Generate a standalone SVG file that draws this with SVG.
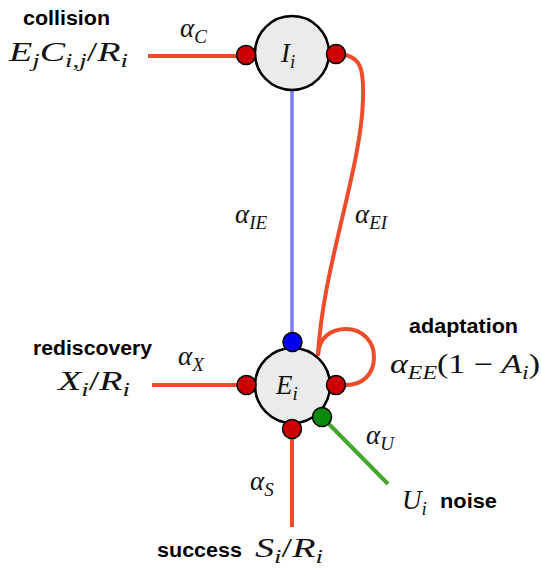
<svg xmlns="http://www.w3.org/2000/svg" width="541" height="571" viewBox="0 0 541 571">
<style>
.red{fill:none;stroke:#EE4B2B;stroke-width:4}
.blue{fill:none;stroke:#7B7BF3;stroke-width:3.5}
.green{fill:none;stroke:#45A52E;stroke-width:4}
.node{fill:#EBEBEB;stroke:#000;stroke-width:2.5}
.pr{fill:#CC0000;stroke:#000;stroke-width:1.5}
.pb{fill:#0000EE;stroke:#000;stroke-width:1.5}
.pg{fill:#0A8A0A;stroke:#000;stroke-width:1.5}
.m{font-family:"Liberation Serif","DejaVu Serif",serif;font-style:italic;font-size:27px;fill:#111}
.up{font-style:normal}
.b{font-family:"Liberation Sans",Arial,sans-serif;font-weight:bold;font-size:19.5px;fill:#000}
</style>
<rect width="541" height="571" fill="#fff"/>
<g id="connectors">
<path class="red" d="M148 56 H246"/>
<path class="blue" d="M292 91 V342"/>
<path class="red" d="M336 54 C362 54 364 70 363 100 C361 170 322 270 318 356"/>
<path class="red" d="M318 356 C318 337 332 329 346 329 C363 329 374 342 374 357 C374 375 362 385 346 385 L336 385"/>
<path class="red" d="M152 385 H246"/>
<path class="red" d="M292 429 V527"/>
<path class="green" d="M322 417 L388 484"/>
</g>
<g id="node-I">
<circle class="node" cx="292" cy="53" r="37"/>
<text class="m" x="281" y="62">I<tspan font-size="19" dy="6">i</tspan></text>
<circle class="pr" cx="246" cy="55" r="9.5"/>
<circle class="pr" cx="336" cy="54" r="9.5"/>
</g>
<g id="node-E">
<circle class="node" cx="292.5" cy="385.5" r="37.5"/>
<text class="m" x="276" y="394">E<tspan font-size="19" dy="6">i</tspan></text>
<circle class="pb" cx="292.5" cy="342" r="9.5"/>
<circle class="pr" cx="246.5" cy="385" r="9.5"/>
<circle class="pr" cx="336" cy="385" r="9.5"/>
<circle class="pr" cx="292" cy="429" r="9.5"/>
<circle class="pg" cx="322" cy="417" r="9.5"/>
</g>
<g id="labels">
<text class="b" x="23" y="25" textLength="87" lengthAdjust="spacingAndGlyphs">collision</text>
<text class="m" x="9" y="61" textLength="119" lengthAdjust="spacingAndGlyphs">E<tspan font-size="19" dy="6">j</tspan><tspan dy="-6">C</tspan><tspan font-size="19" dy="6">i,j</tspan><tspan class="up" dy="-6">/</tspan>R<tspan font-size="19" dy="6">i</tspan></text>
<text class="m" x="180" y="37">α<tspan font-size="19" dy="6">C</tspan></text>
<text class="m" x="235" y="223">α<tspan font-size="19" dy="6">IE</tspan></text>
<text class="m" x="355" y="223">α<tspan font-size="19" dy="6">EI</tspan></text>
<text class="b" x="33" y="355" textLength="119" lengthAdjust="spacingAndGlyphs">rediscovery</text>
<text class="m" x="178" y="365">α<tspan font-size="19" dy="6">X</tspan></text>
<text class="m" x="58" y="390" textLength="72" lengthAdjust="spacingAndGlyphs">X<tspan font-size="19" dy="6">i</tspan><tspan class="up" dy="-6">/</tspan>R<tspan font-size="19" dy="6">i</tspan></text>
<text class="b" x="409" y="333" textLength="109" lengthAdjust="spacingAndGlyphs">adaptation</text>
<text class="m" x="390" y="373" textLength="150" lengthAdjust="spacingAndGlyphs">α<tspan font-size="19" dy="6">EE</tspan><tspan class="up" dy="-6">(1 − </tspan>A<tspan font-size="19" dy="6">i</tspan><tspan class="up" dy="-6">)</tspan></text>
<text class="m" x="366" y="444">α<tspan font-size="19" dy="6">U</tspan></text>
<text class="m" x="250" y="490">α<tspan font-size="19" dy="6">S</tspan></text>
<text class="m" x="402" y="509">U<tspan font-size="19" dy="6">i</tspan></text>
<text class="b" x="440" y="508" textLength="57" lengthAdjust="spacingAndGlyphs">noise</text>
<text class="b" x="157" y="557" textLength="85" lengthAdjust="spacingAndGlyphs">success</text>
<text class="m" x="255" y="557" textLength="68" lengthAdjust="spacingAndGlyphs">S<tspan font-size="19" dy="6">i</tspan><tspan class="up" dy="-6">/</tspan>R<tspan font-size="19" dy="6">i</tspan></text>
</g>
</svg>
